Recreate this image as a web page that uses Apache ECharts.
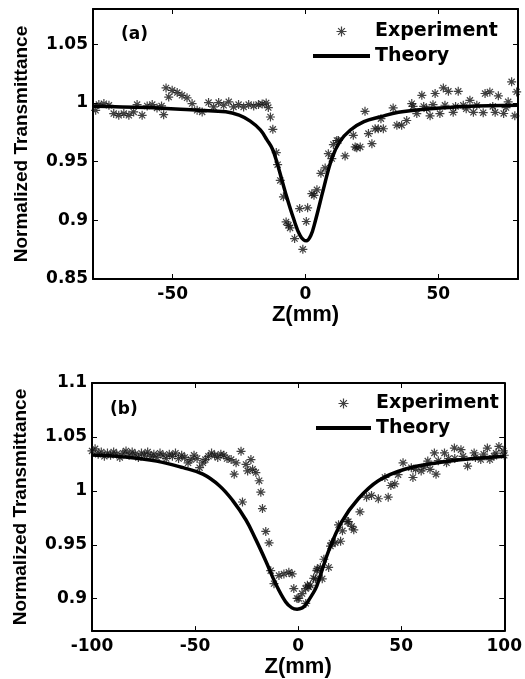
<!DOCTYPE html>
<html><head><meta charset="utf-8">
<script src="https://cdn.jsdelivr.net/npm/echarts@6/dist/echarts.min.js"></script>
<style>html,body{margin:0;padding:0;background:#fff}#c{width:525px;height:679px}</style>
</head><body><div id="c"></div>
<script>
// Panel (a)
const expA_z = [-79,-77.8,-75.9,-74,-72.2,-70.3,-68.4,-66.5,-64.7,-63.4,-61.5,-59.6,-57.7,-55.9,-54.2,-53.4,-52.5,-51.5,-50.2,-48.3,-46.5,-44.6,-42.7,-40.8,-38.9,-36.5,-34.6,-32.7,-30.8,-28.9,-27.1,-25.2,-23.3,-21.4,-19.5,-17.7,-16.3,-14.8,-14,-13.2,-12.3,-11,-10.5,-9.5,-8.3,-7.3,-6.4,-5.8,-4.1,-2.2,-1,0.3,0.8,2.4,3.2,4.3,5.8,7.4,8.6,9.9,10.5,11.8,12.4,14.9,18,18.7,19.3,20.6,22.4,23.7,25,26.2,27.4,28.4,29.3,33,34.4,36.2,38.1,40,40.5,41.9,43.8,44.5,45.6,46.9,48,48.8,50.6,51.9,52.5,53.8,55.6,56.5,57.5,59.4,60.5,61.9,63.2,64.5,66.9,67.6,69.4,70.5,71.4,72.6,74.6,75.5,76.3,77.6,78.8,79.5];
const expA_T = [0.9937,0.9986,0.9994,0.998,0.9909,0.9894,0.9909,0.9894,0.9923,0.9986,0.9894,0.9974,0.9986,0.9957,0.9974,0.990,1.0128,1.005,1.0107,1.0088,1.0065,1.0043,0.9994,0.9937,0.9923,1.0003,0.9966,1.0003,0.998,1.0009,0.9966,0.9986,0.9966,0.9986,0.9974,0.9986,0.999,1.0,0.996,0.988,0.9775,0.9577,0.9474,0.934,0.92,0.8986,0.8957,0.8935,0.8844,0.91,0.8753,0.899,0.9106,0.9227,0.9213,0.926,0.94,0.9446,0.9568,0.9526,0.9645,0.968,0.968,0.9548,0.9724,0.9625,0.9617,0.9625,0.9928,0.9739,0.9653,0.978,0.978,0.9866,0.978,0.9957,0.981,0.981,0.985,0.9994,0.997,0.9909,1.0065,0.997,0.995,0.989,0.9985,1.008,0.9909,1.0128,0.998,1.0099,0.992,0.997,1.0099,0.998,0.995,1.0022,0.992,0.998,0.9917,1.008,1.0094,0.997,0.992,1.006,0.991,0.996,1.0009,1.018,0.989,1.0094];
const thA_z = [-80,-60,-40,-30,-25,-20.8,-17,-14.5,-12.5,-10.8,-7.6,-4.5,-2,0.3,2,3.6,6.8,9.9,13,16.8,22,28,35,47,60,80];
const thA_T = [0.9972,0.996,0.9937,0.9925,0.9895,0.9845,0.977,0.9685,0.961,0.9497,0.924,0.9015,0.887,0.8825,0.887,0.8986,0.927,0.9526,0.9672,0.9767,0.984,0.988,0.992,0.995,0.997,0.998];

// Panel (b)
const expB_z = [-100,-98.5,-97,-95.5,-94,-92.5,-91,-89.5,-88,-86.5,-85,-83.5,-82,-80.5,-79,-77.5,-76,-74.5,-73,-71.5,-70,-68.5,-67,-65.5,-64,-62.5,-61,-59.5,-58,-56.5,-55,-53.4,-52,-50.5,-49,-47.8,-46.2,-45,-43.5,-42,-40.5,-39,-37.5,-36,-34.5,-32.5,-31,-30.1,-27.7,-27,-25.3,-24.5,-22.9,-22.1,-20.5,-18.9,-18.1,-17.3,-15.7,-14.1,-13.3,-11.7,-9.3,-6.9,-4.5,-2.9,-2.1,-0.5,0.3,1.9,3.6,3.7,4.5,5.2,6,7.5,8.4,9.1,9.3,10.8,11.7,12.5,14.8,15.7,16.4,18,19.6,20.6,21.5,23.8,24.4,26,27,30,33.2,35.6,38.9,42.1,43.7,45,46.9,48.5,50.9,54.9,55.7,57,59.7,61,62.9,64,66.1,66.9,68,71,72,73,75.8,76,79,80,82.2,85.4,86,88.6,90,91.8,93,95,96,97.4,99.5,100];
const expB_T = [1.037,1.039,1.034,1.036,1.032,1.035,1.033,1.036,1.034,1.031,1.035,1.037,1.033,1.036,1.034,1.031,1.035,1.033,1.036,1.032,1.034,1.031,1.035,1.033,1.030,1.034,1.032,1.035,1.030,1.033,1.031,1.026,1.029,1.033,1.030,1.0215,1.026,1.029,1.032,1.035,1.033,1.031,1.034,1.033,1.030,1.029,1.0155,1.026,1.0367,0.9897,1.0245,1.0185,1.029,1.02,1.017,1.0094,0.9988,0.9836,0.9624,0.9518,0.926,0.914,0.9215,0.923,0.9245,0.923,0.9094,0.9003,0.9003,0.9048,0.9094,0.8957,0.9125,0.911,0.9125,0.919,0.9185,0.926,0.9276,0.929,0.9185,0.9366,0.929,0.9488,0.9518,0.952,0.9685,0.9533,0.963,0.9715,0.9715,0.967,0.9639,0.9806,0.9942,0.9958,0.9927,1.0124,0.9942,1.005,1.0064,1.015,1.026,1.0215,1.0124,1.02,1.0185,1.022,1.0276,1.02,1.0352,1.0155,1.028,1.0352,1.026,1.03,1.0397,1.03,1.0382,1.032,1.023,1.0352,1.031,1.029,1.034,1.0397,1.029,1.0321,1.035,1.0412,1.037,1.033];
const thB_z = [-100,-84.7,-68.7,-55.8,-46.2,-38.2,-31.8,-25.3,-20.5,-15.7,-10.9,-6.1,-3,-0.5,2,3.6,5.2,8.4,10,14.8,21.2,29.2,38.9,51.7,67.7,83.8,100];
const thB_T = [1.0333,1.0315,1.0276,1.0215,1.0155,1.0048,0.9912,0.973,0.9548,0.935,0.914,0.8973,0.8915,0.8903,0.8915,0.8943,0.8988,0.909,0.917,0.9443,0.9715,0.9927,1.0094,1.02,1.0261,1.0297,1.0321];

const ticksAx = [-50, 0, 50];
const ticksAy = [0.85, 0.9, 0.95, 1, 1.05];
const ticksBx = [-100, -50, 0, 50, 100];
const ticksBy = [0.9, 0.95, 1, 1.05, 1.1];

const zip = (a, b) => a.map((v, i) => [v, b[i]]);
const star = 'path://M0,5L10,5M5,0L5,10M1.6,1.6L8.4,8.4M8.4,1.6L1.6,8.4';
const barIcon = 'path://M0,0L56,0L56,4L0,4Z';
const tickFont = {fontFamily: 'DejaVu Sans', fontWeight: 'bold', fontSize: 17, color: '#000'};
const axLine = {show: true, onZero: false, lineStyle: {color: '#000', width: 2}};

function xAx(grid, min, max, ticks, pos) {
  const main = pos === 'bottom';
  return {
    type: 'value', gridIndex: grid, position: pos, min: min, max: max,
    axisLine: axLine,
    axisTick: {show: true, inside: true, length: 5, customValues: ticks, lineStyle: {color: '#000', width: 1}},
    axisLabel: {show: main, customValues: ticks, margin: 7, ...tickFont},
    splitLine: {show: false},
    name: main ? 'Z(mm)' : '', nameLocation: 'middle', nameGap: 22,
    nameTextStyle: {fontFamily: 'Liberation Sans', fontWeight: 'bold', fontSize: 22, color: '#000'}
  };
}
function yAx(grid, min, max, ticks, pos) {
  const main = pos === 'left';
  return {
    type: 'value', gridIndex: grid, position: pos, min: min, max: max,
    axisLine: axLine,
    axisTick: {show: true, inside: true, length: 5, customValues: ticks, lineStyle: {color: '#000', width: 1}},
    axisLabel: {show: main, customValues: ticks, margin: 5, ...tickFont},
    splitLine: {show: false},
    name: main ? 'Normalized Transmittance' : '', nameLocation: 'middle', nameGap: 62,
    nameTextStyle: {fontFamily: 'Liberation Sans', fontWeight: 'bold', fontSize: 19, color: '#000'}
  };
}
function expSeries(name, xi, yi, data) {
  return {
    name: name, type: 'scatter', xAxisIndex: xi, yAxisIndex: yi, data: data,
    symbol: star, symbolSize: 9, symbolKeepAspect: true,
    itemStyle: {color: '#111', borderColor: '#111', borderWidth: 1.2},
    z: 3
  };
}
function thSeries(name, xi, yi, data) {
  return {
    name: name, type: 'line', xAxisIndex: xi, yAxisIndex: yi, data: data,
    smooth: 0.4, symbol: 'none', lineStyle: {color: '#000', width: 3.5},
    itemStyle: {color: '#000'}, z: 4
  };
}
const legendText = {fontFamily: 'DejaVu Sans', fontWeight: 'bold', fontSize: 19, color: '#000'};
const legendData = [
  {name: 'Experiment', itemStyle: {color: '#111', borderColor: '#111', borderWidth: 1.2}},
  {name: 'Theory', icon: barIcon, itemStyle: {color: '#000', borderWidth: 0}}
];

const option = {
  animation: false,
  backgroundColor: '#fff',
  grid: [
    {left: 93, top: 9, width: 425, height: 270},
    {left: 92, top: 383, width: 415, height: 252}
  ],
  title: [
    {text: '(a)', left: 121, top: 26, padding: 0, textStyle: {fontFamily: 'DejaVu Sans', fontWeight: 'bold', fontSize: 17, color: '#000'}},
    {text: '(b)', left: 110, top: 401, padding: 0, textStyle: {fontFamily: 'DejaVu Sans', fontWeight: 'bold', fontSize: 17, color: '#000'}}
  ],
  legend: [
    {orient: 'vertical', left: 313, top: 22, padding: 0, itemWidth: 57, itemHeight: 10, itemGap: 5.5,
     textStyle: legendText, data: legendData, selectedMode: false},
    {orient: 'vertical', left: 316, top: 394, padding: 0, itemWidth: 55, itemHeight: 10, itemGap: 5.5,
     textStyle: legendText, data: legendData, selectedMode: false}
  ],
  xAxis: [
    xAx(0, -80, 80, ticksAx, 'bottom'), xAx(0, -80, 80, ticksAx, 'top'),
    xAx(1, -100, 100, ticksBx, 'bottom'), xAx(1, -100, 100, ticksBx, 'top')
  ],
  yAxis: [
    yAx(0, 0.85, 1.08, ticksAy, 'left'), yAx(0, 0.85, 1.08, ticksAy, 'right'),
    yAx(1, 0.87, 1.1, ticksBy, 'left'), yAx(1, 0.87, 1.1, ticksBy, 'right')
  ],
  series: [
    expSeries('Experiment', 0, 0, zip(expA_z, expA_T)),
    thSeries('Theory', 0, 0, zip(thA_z, thA_T)),
    expSeries('Experiment', 2, 2, zip(expB_z, expB_T)),
    thSeries('Theory', 2, 2, zip(thB_z, thB_T))
  ]
};
echarts.init(document.getElementById('c')).setOption(option);
</script></body></html>
